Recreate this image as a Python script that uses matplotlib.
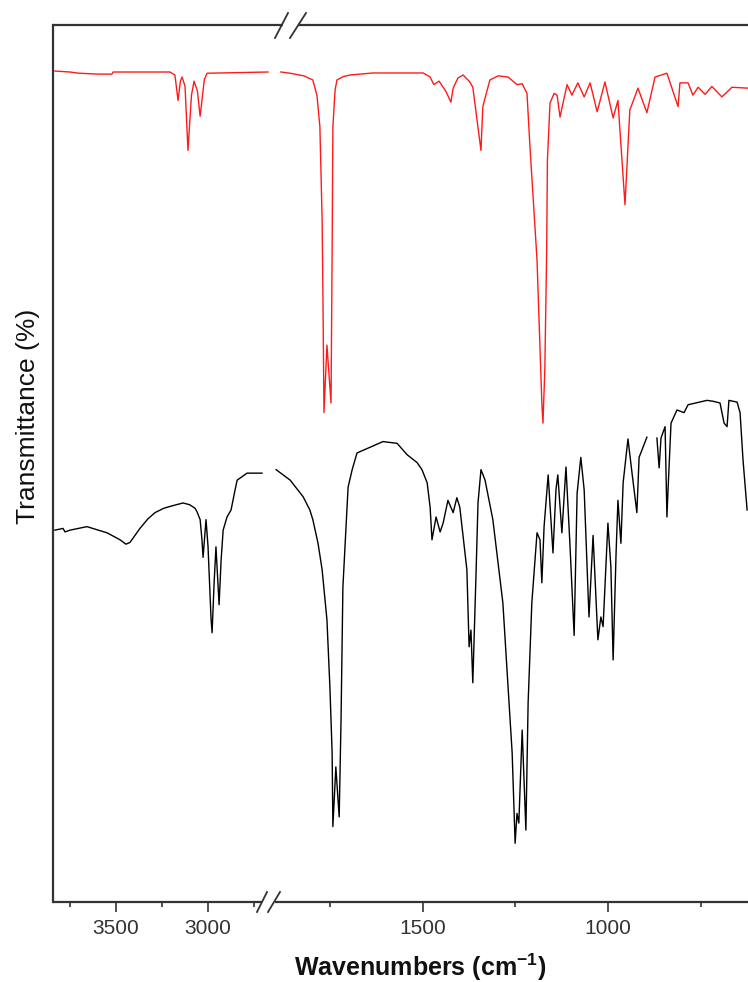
import matplotlib
matplotlib.use("Agg")
import matplotlib.pyplot as plt
import numpy as np
from matplotlib.lines import Line2D
from matplotlib.ticker import FixedLocator

plt.rcParams['font.family'] = ['Liberation Sans', 'DejaVu Sans']
plt.rcParams['mathtext.fontset'] = 'custom'
plt.rcParams['mathtext.rm'] = 'Liberation Sans'
plt.rcParams['mathtext.bf'] = 'Liberation Sans:bold'

# ---------------- data (wavenumber cm-1, transmittance a.u.) ----------------
red_hi_wn = [3832, 3750, 3701, 3592, 3522, 3516, 3207, 3180, 3163, 3150, 3141, 3125,
             3109, 3090, 3076, 3058, 3043, 3020, 3005, 2674]
red_hi_t = [94.75, 94.64, 94.5, 94.4, 94.4, 94.64, 94.64, 94.3, 91.4, 93.6, 94.07, 93.0,
            85.7, 92.0, 93.6, 92.5, 89.6, 93.8, 94.5, 94.64]

red_lo_wn = [1882, 1857, 1820, 1796, 1785, 1777, 1771, 1769, 1766, 1758, 1747, 1744,
             1742, 1736, 1731, 1715, 1696, 1634, 1499, 1480, 1470, 1456, 1437, 1424,
             1418, 1405, 1391, 1373, 1365, 1343, 1338, 1319, 1297, 1270, 1246, 1232,
             1219, 1211, 1192, 1179, 1176, 1171, 1166, 1164, 1157, 1146, 1138, 1130,
             1122, 1111, 1098, 1082, 1065, 1049, 1030, 1009, 987, 974, 955, 942, 920,
             896, 874, 842, 812, 807, 785, 772, 758, 739, 721, 694, 667, 624]
red_lo_t = [94.64, 94.5, 94.2, 93.73, 92.0, 88.4, 77.8, 70.1, 55.8, 63.5, 56.9, 74.3,
            88.4, 92.6, 93.73, 94.1, 94.3, 94.53, 94.53, 94.07, 93.2, 93.6, 92.4, 91.2,
            92.8, 93.96, 94.3, 93.5, 92.9, 85.7, 90.7, 93.73, 94.2, 94.07, 93.2, 93.3,
            92.2, 86.1, 73.2, 56.9, 54.6, 60.7, 74.3, 84.6, 91.1, 92.2, 92.0, 89.5,
            91.1, 93.2, 92.0, 93.4, 91.8, 93.4, 90.1, 93.5, 89.4, 91.4, 79.5, 90.3, 92.8,
            90.0, 94.07, 94.5, 90.7, 93.4, 93.4, 92.0, 92.9, 92.1, 93.0, 91.8, 92.9, 92.8]

blk_hi_wn = [3832, 3788, 3777, 3750, 3658, 3549, 3478, 3446, 3424, 3370, 3326, 3288,
             3240, 3190, 3136, 3100, 3071, 3060, 3043, 3033, 3027, 3011, 3000, 2984,
             2978, 2967, 2957, 2940, 2929, 2918, 2897, 2875, 2853, 2842, 2788, 2707]
blk_hi_t = [42.4, 42.6, 42.2, 42.4, 42.8, 42.1, 41.3, 40.8, 41.0, 42.6, 43.7, 44.4,
            44.9, 45.2, 45.5, 45.3, 44.9, 44.5, 43.6, 41.3, 39.3, 43.6, 40.5, 32.4,
            30.7, 36.4, 40.5, 33.9, 39.0, 42.4, 43.9, 44.7, 47.0, 48.1, 48.9, 48.9]

blk_lo_wn = [1895, 1857, 1822, 1804, 1796, 1782, 1771, 1758, 1750, 1744, 1742, 1734,
             1725, 1720, 1715, 1701, 1690, 1677, 1650, 1607, 1569, 1542, 1515, 1502,
             1488, 1480, 1475, 1464, 1453, 1445, 1432, 1418, 1408, 1400, 1381, 1375,
             1370, 1365, 1356, 1351, 1343, 1332, 1311, 1284, 1270, 1259, 1251, 1246,
             1241, 1232, 1222, 1216, 1206, 1192, 1184, 1179, 1173, 1162, 1149, 1141,
             1136, 1125, 1114, 1103, 1092, 1084, 1074, 1065, 1052, 1041, 1028, 1020,
             1014, 1001, 993, 987, 979, 974, 966, 960, 947, 936, 923, 917, 896, 880,
             869, 863, 858, 847, 842, 839, 831, 815, 796, 785, 734, 718, 699, 688,
             680, 675, 653, 645, 637, 632, 626]
blk_lo_t = [49.3, 48.1, 46.2, 44.7, 43.6, 40.9, 37.9, 32.2, 24.5, 17.0, 8.6, 15.4,
            9.7, 20.8, 35.9, 47.3, 49.3, 51.2, 51.7, 52.5, 52.3, 51.0, 50.1, 49.3,
            47.8, 45.0, 41.3, 43.9, 42.2, 43.2, 45.8, 44.4, 46.1, 45.0, 37.9, 29.1,
            31.0, 25.0, 37.9, 45.5, 49.3, 48.1, 43.6, 34.1, 24.5, 17.0, 6.7, 10.1,
            9.0, 19.6, 8.2, 22.7, 34.1, 42.1, 41.3, 36.4, 42.8, 48.7, 39.8, 47.0,
            48.7, 42.1, 49.6, 40.5, 30.4, 46.6, 50.7, 47.0, 32.5, 41.8, 29.9, 32.5,
            31.4, 43.2, 38.2, 27.6, 39.8, 45.8, 40.9, 47.8, 52.8, 48.9, 44.4, 50.7, 53.0, np.nan,
            52.9, 49.5, 52.9, 54.2, 43.9, 47.0, 54.6, 56.1, 55.8, 56.7, 57.2, 57.1, 56.9, 54.6,
            54.2, 57.2, 57.0, 55.8, 50.4, 47.8, 44.7]

hi_ticks = [3500, 3000]
hi_minor = [3750, 3250, 2750]
lo_ticks = [1500, 1000]
lo_minor = [1750, 1250, 750]

# ---------------- layout ----------------
W, H = 748, 982
fig = plt.figure(figsize=(W / 100, H / 100), dpi=100)

def fx(x):
    return x / W

def fy(y):
    return 1 - y / H

x0, xb, x1 = 52.5, 271.0, 748.0
ytop, ybot = 25.0, 902.0
ax1 = fig.add_axes([fx(x0), fy(ybot), (xb - x0) / W, (ybot - ytop) / H])
ax2 = fig.add_axes([fx(xb), fy(ybot), (x1 - xb) / W, (ybot - ytop) / H])

lw = 1.0
ax1.plot(red_hi_wn, red_hi_t, color='#ff1a1a', lw=lw)
ax1.plot(blk_hi_wn, blk_hi_t, color='#000000', lw=lw)
ax2.plot(red_lo_wn, red_lo_t, color='#ff1a1a', lw=lw)
ax2.plot(blk_lo_wn, blk_lo_t, color='#000000', lw=lw)

ax1.set_xlim(3845, 2658)
ax2.set_xlim(1908.7, 623.6)
for ax in (ax1, ax2):
    ax.set_ylim(0, 100)
    ax.set_yticks([])
    ax.spines['top'].set_visible(False)
    ax.spines['bottom'].set_visible(False)
    ax.spines['right'].set_visible(False)
    ax.tick_params(axis='x', which='major', direction='out', length=7, width=1.2,
                   color='#333333', labelsize=15, labelcolor='#333333', pad=5)
    ax.tick_params(axis='x', which='minor', direction='out', length=3.5, width=1.2,
                   color='#333333')
    ax.patch.set_visible(False)
ax2.spines['left'].set_visible(False)
ax1.spines['left'].set_linewidth(1.6)
ax1.spines['left'].set_color('#333333')

ax1.set_xticks(hi_ticks)
ax1.xaxis.set_minor_locator(FixedLocator(hi_minor))
ax2.set_xticks(lo_ticks)
ax2.xaxis.set_minor_locator(FixedLocator(lo_minor))

# axis lines with breaks
lc = '#333333'
for (xa, xbb, yy) in [(x0, 262, ybot), (275, x1, ybot), (x0, 283, ytop), (298, x1, ytop)]:
    fig.add_artist(Line2D([fx(xa), fx(xbb)], [fy(yy), fy(yy)], color=lc, lw=1.6,
                          transform=fig.transFigure, solid_capstyle='butt'))
for (xa, ya, xbb, yb) in [(257, 912, 267, 892), (268, 912, 280, 892),
                          (275, 38, 288, 13), (290, 38, 306, 13)]:
    fig.add_artist(Line2D([fx(xa), fx(xbb)], [fy(ya), fy(yb)], color=lc, lw=1.3,
                          transform=fig.transFigure))

fig.text(fx(420), fy(967), r'Wavenumbers (cm$^{\mathbf{-1}}$)', fontsize=18,
         fontweight='bold', ha='center', va='center', color='#111111')
fig.text(fx(28), fy(416), 'Transmittance (%)', fontsize=19, rotation=90,
         ha='center', va='center', color='#111111')

fig.savefig('out.png', dpi=100)
